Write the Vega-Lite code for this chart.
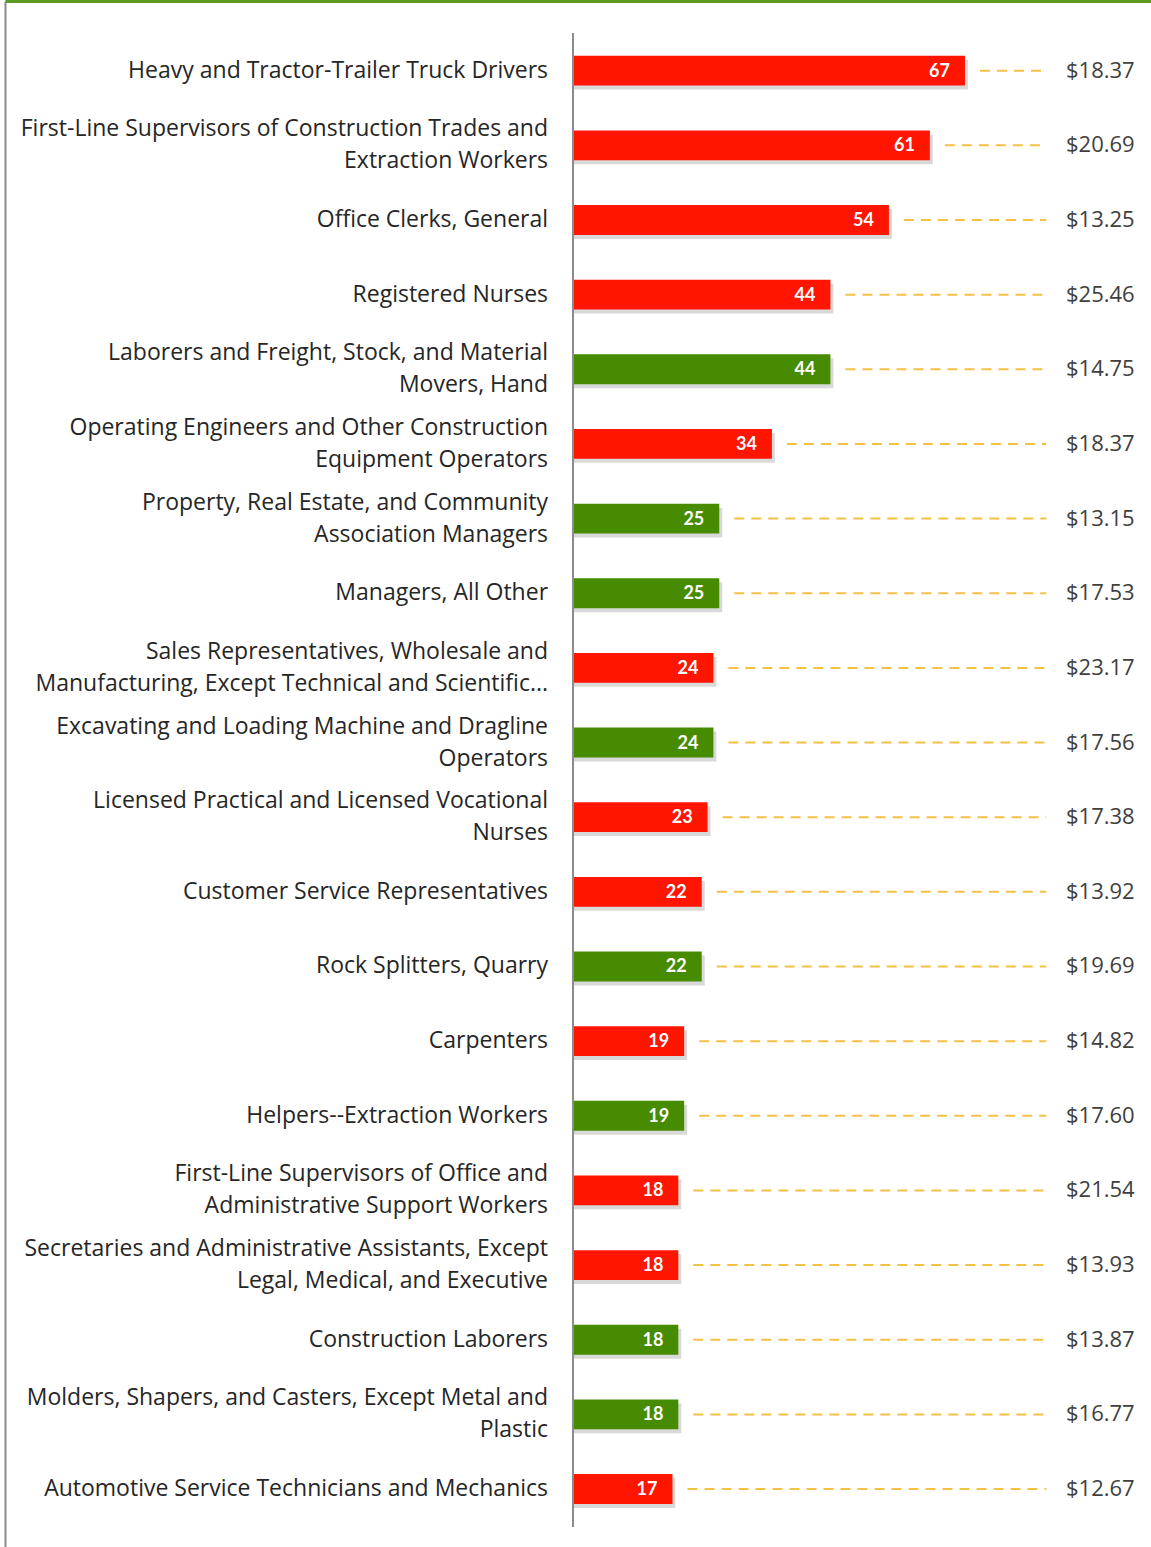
{
  "$schema": "https://vega.github.io/schema/vega-lite/v6.json",
  "width": 1146,
  "height": 1546,
  "autosize": "none",
  "padding": {"left": 5, "top": 1, "right": 0, "bottom": 0},
  "background": "white",
  "config": {"view": {"stroke": null}, "font": "Open Sans"},
  "data": {
    "values": [
      {"occ": "Heavy and Tractor-Trailer Truck Drivers", "jobs": 67, "wage": 18.37, "group": "red"},
      {"occ": "First-Line Supervisors of Construction Trades and\nExtraction Workers", "jobs": 61, "wage": 20.69, "group": "red"},
      {"occ": "Office Clerks, General", "jobs": 54, "wage": 13.25, "group": "red"},
      {"occ": "Registered Nurses", "jobs": 44, "wage": 25.46, "group": "red"},
      {"occ": "Laborers and Freight, Stock, and Material\nMovers, Hand", "jobs": 44, "wage": 14.75, "group": "green"},
      {"occ": "Operating Engineers and Other Construction\nEquipment Operators", "jobs": 34, "wage": 18.37, "group": "red"},
      {"occ": "Property, Real Estate, and Community\nAssociation Managers", "jobs": 25, "wage": 13.15, "group": "green"},
      {"occ": "Managers, All Other", "jobs": 25, "wage": 17.53, "group": "green"},
      {"occ": "Sales Representatives, Wholesale and\nManufacturing, Except Technical and Scientific...", "jobs": 24, "wage": 23.17, "group": "red"},
      {"occ": "Excavating and Loading Machine and Dragline\nOperators", "jobs": 24, "wage": 17.56, "group": "green"},
      {"occ": "Licensed Practical and Licensed Vocational\nNurses", "jobs": 23, "wage": 17.38, "group": "red"},
      {"occ": "Customer Service Representatives", "jobs": 22, "wage": 13.92, "group": "red"},
      {"occ": "Rock Splitters, Quarry", "jobs": 22, "wage": 19.69, "group": "green"},
      {"occ": "Carpenters", "jobs": 19, "wage": 14.82, "group": "red"},
      {"occ": "Helpers--Extraction Workers", "jobs": 19, "wage": 17.60, "group": "green"},
      {"occ": "First-Line Supervisors of Office and\nAdministrative Support Workers", "jobs": 18, "wage": 21.54, "group": "red"},
      {"occ": "Secretaries and Administrative Assistants, Except\nLegal, Medical, and Executive", "jobs": 18, "wage": 13.93, "group": "red"},
      {"occ": "Construction Laborers", "jobs": 18, "wage": 13.87, "group": "green"},
      {"occ": "Molders, Shapers, and Casters, Except Metal and\nPlastic", "jobs": 18, "wage": 16.77, "group": "green"},
      {"occ": "Automotive Service Technicians and Mechanics", "jobs": 17, "wage": 12.67, "group": "red"}
    ]
  },
  "encoding": {
    "y": {
      "field": "occ",
      "type": "nominal",
      "sort": null,
      "scale": {"paddingInner": 0.6, "paddingOuter": 0.655, "align": 0.56},
      "axis": {"orient": "left", "labels": false, "ticks": false, "title": null, "domain": true, "domainColor": "#8c8c8c", "domainWidth": 2, "grid": false}
    }
  },
  "layer": [
    {
      "mark": {"type": "bar", "color": "#000000", "opacity": 0.15, "xOffset": 3, "yOffset": 4},
      "encoding": {
        "x": {
          "field": "jobs",
          "type": "quantitative",
          "scale": {"domain": [-97.1, 98.8], "nice": false, "zero": false},
          "axis": {"orient": "top", "labels": false, "ticks": false, "grid": false, "title": null, "domainColor": "#5b9b1f", "domainWidth": 3}
        },
        "x2": {"datum": 0}
      }
    },
    {
      "mark": {"type": "bar"},
      "encoding": {
        "x": {"field": "jobs", "type": "quantitative"},
        "x2": {"datum": 0},
        "color": {"field": "group", "type": "nominal", "scale": {"domain": ["red", "green"], "range": ["#ff1500", "#478b00"]}, "legend": null}
      }
    },
    {
      "mark": {"type": "text", "align": "right", "baseline": "middle", "dx": -15, "dy": 1, "color": "white", "fontWeight": "bold", "fontSize": 18, "font": "Lato"},
      "encoding": {
        "x": {"field": "jobs", "type": "quantitative"},
        "text": {"field": "jobs", "type": "quantitative"}
      }
    },
    {
      "mark": {"type": "rule", "color": "#f4c145", "strokeWidth": 2, "strokeDash": [10, 7], "xOffset": 15},
      "encoding": {
        "x": {"field": "jobs", "type": "quantitative"},
        "x2": {"datum": 80.9}
      }
    },
    {
      "mark": {"type": "text", "align": "left", "baseline": "middle", "fontSize": 22, "color": "#404040"},
      "encoding": {
        "x": {"datum": 84.27, "type": "quantitative"},
        "text": {"field": "wage", "type": "quantitative", "format": "$.2f"}
      }
    },
    {
      "transform": [{"filter": "indexof(datum.occ, '\\n') < 0"}],
      "mark": {"type": "text", "align": "right", "baseline": "middle", "fontSize": 23, "color": "#262626"},
      "encoding": {
        "x": {"datum": -4.27, "type": "quantitative"},
        "text": {"field": "occ", "type": "nominal"}
      }
    },
    {
      "transform": [{"filter": "indexof(datum.occ, '\\n') >= 0"}],
      "mark": {"type": "text", "align": "right", "baseline": "middle", "dy": -16, "fontSize": 23, "lineHeight": 32, "lineBreak": "\n", "color": "#262626"},
      "encoding": {
        "x": {"datum": -4.27, "type": "quantitative"},
        "text": {"field": "occ", "type": "nominal"}
      }
    },
    {
      "mark": {"type": "rule", "color": "#8c8c8c", "strokeWidth": 1.5},
      "encoding": {
        "x": {"datum": 0, "type": "quantitative"},
        "y": {"datum": "Heavy and Tractor-Trailer Truck Drivers", "type": "nominal", "bandPosition": -0.75},
        "y2": {"datum": "Automotive Service Technicians and Mechanics", "bandPosition": 1.75}
      }
    }
  ]
}
